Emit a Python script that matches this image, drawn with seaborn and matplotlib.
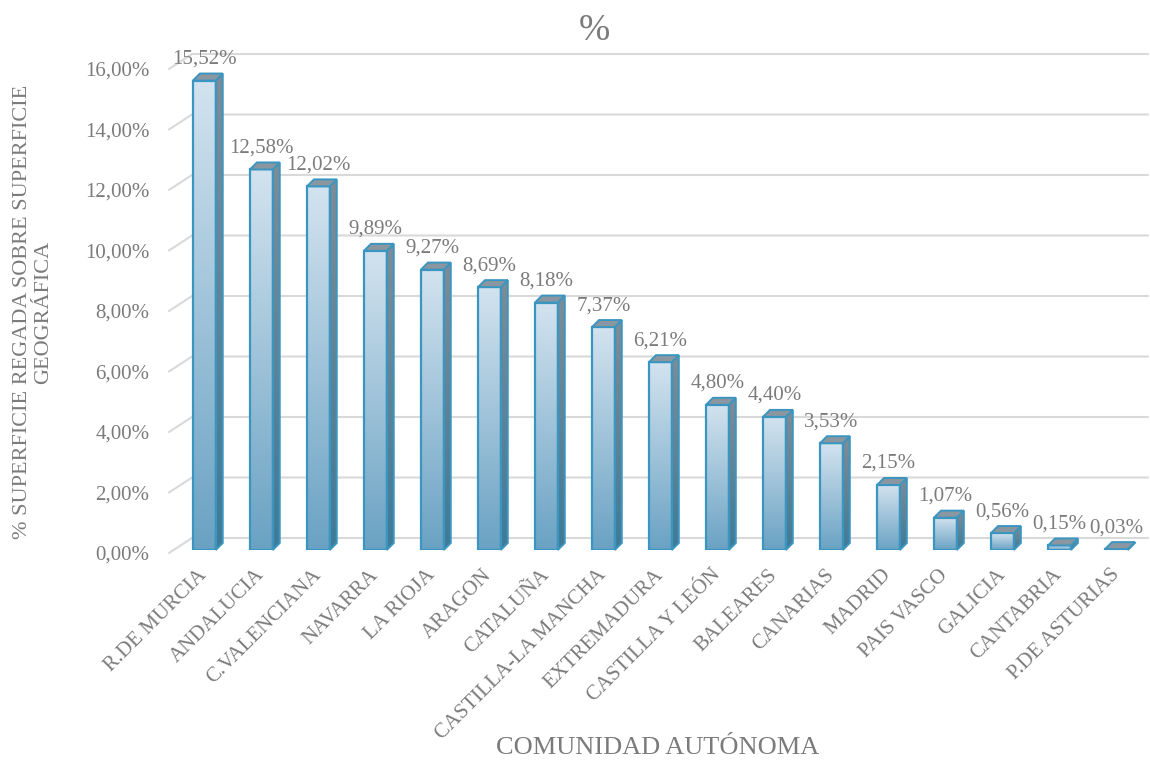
import numpy as np
import pandas as pd
import seaborn as sns
import matplotlib.pyplot as plt
import matplotlib as mpl
from matplotlib.patches import Polygon
from matplotlib.lines import Line2D
from matplotlib.transforms import ScaledTranslation

sns.set_theme(style="white")
plt.rcParams['font.family'] = ['Liberation Serif', 'DejaVu Serif']

regions = [
    'R.DE MURCIA', 'ANDALUCIA', 'C.VALENCIANA', 'NAVARRA', 'LA RIOJA',
    'ARAGON', 'CATALUÑA', 'CASTILLA-LA MANCHA', 'EXTREMADURA',
    'CASTILLA Y LEÓN', 'BALEARES', 'CANARIAS', 'MADRID', 'PAIS VASCO',
    'GALICIA', 'CANTABRIA', 'P.DE ASTURIAS'
]
pct = [15.52, 12.58, 12.02, 9.89, 9.27, 8.69, 8.18, 7.37, 6.21,
       4.80, 4.40, 3.53, 2.15, 1.07, 0.56, 0.15, 0.03]
yticks = [0, 2, 4, 6, 8, 10, 12, 14, 16]

df = pd.DataFrame({'region': regions, 'pct': pct})

TXT = '#7b7b7b'
GRID = '#d9d9d9'
EDGE = '#3a96c0'

# Excel style 3D look: front face gradient, grey side and top faces
front_cmap = mpl.colors.LinearSegmentedColormap.from_list('front', ['#6aa2c3', '#d3e3ef'])
side_cmap = mpl.colors.LinearSegmentedColormap.from_list('side', ['#3f7a97', '#808c96'])
TOP = '#8a97a1'

fig = plt.figure(figsize=(11.5, 7.62), dpi=100)
ax = fig.add_axes([169 / 1150, 212 / 762, 956 / 1150, 484 / 762])

sns.barplot(data=df, x='region', y='pct', color='#9fc3db', width=0.4,
            edgecolor=EDGE, linewidth=1.6, ax=ax, zorder=3)

xmin, xmax = -0.62, 16.15
ymin, ymax = 0, 16
ax.set_xlim(xmin, xmax)
ax.set_ylim(ymin, ymax)

# pixel -> data unit conversion
ux = 956 / (xmax - xmin)
uy = 484 / (ymax - ymin)

# back wall gridlines with floor diagonals
wdx, wdy = 23 / ux, 15 / uy
f0 = -3 / uy
for t in yticks:
    ax.add_line(Line2D([xmin, xmin + wdx, xmax + wdx], [t + f0, t + f0 + wdy, t + f0 + wdy],
                       color=GRID, lw=1.5, clip_on=False, zorder=0))

bdx, bdy = 7 / ux, 7 / uy
grad = np.linspace(0, 1, 256).reshape(-1, 1)
for bar, v in zip(ax.patches, pct):
    x0 = bar.get_x()
    w = bar.get_width()
    h = bar.get_height()
    bar.set_facecolor('none')
    im = ax.imshow(grad, cmap=front_cmap, origin='lower', aspect='auto',
                   extent=[x0, x0 + w, 0, max(h, 1e-3)], zorder=2)
    im.set_clip_path(bar)
    # side face
    side = Polygon([(x0 + w, 0), (x0 + w + bdx, bdy), (x0 + w + bdx, h + bdy), (x0 + w, h)],
                   closed=True, facecolor='none', edgecolor=EDGE, lw=1.4,
                   clip_on=False, zorder=3)
    ax.add_patch(side)
    im2 = ax.imshow(grad, cmap=side_cmap, origin='lower', aspect='auto',
                    extent=[x0 + w, x0 + w + bdx, 0, h + bdy], zorder=2)
    im2.set_clip_path(side)
    # top face
    top = Polygon([(x0, h), (x0 + bdx, h + bdy), (x0 + w + bdx, h + bdy), (x0 + w, h)],
                  closed=True, facecolor=TOP, edgecolor=EDGE, lw=1.4,
                  clip_on=False, zorder=3)
    ax.add_patch(top)
    ax.text(x0 + w / 2, h + bdy + 5 / uy, f'{v:.2f}'.replace('.', ',') + '%',
            ha='center', va='bottom', fontsize=15, color=TXT, zorder=4)

ax.set_xlim(xmin, xmax)
ax.set_ylim(ymin, ymax)

ax.set_yticks(yticks)
ax.set_yticklabels([f'{t:.2f}'.replace('.', ',') + '%' for t in yticks],
                   fontsize=15, color=TXT)
ax.tick_params(axis='y', length=0, pad=14)
shift = ScaledTranslation(0, -3 / 100, fig.dpi_scale_trans)
for lab in ax.get_yticklabels():
    lab.set_transform(lab.get_transform() + shift)
ax.tick_params(axis='x', length=0, pad=16)
for lab in ax.get_xticklabels():
    lab.set_rotation(45)
    lab.set_ha('right')
    lab.set_va('center')
    lab.set_rotation_mode('anchor')
    lab.set_fontsize(15)
    lab.set_color(TXT)

ax.set_xlabel('')
ax.set_ylabel('')
for s in ax.spines.values():
    s.set_visible(False)
ax.grid(False)

fig.text(33 / 1150, 1 - 312 / 762, '% SUPERFICIE REGADA SOBRE SUPERFICIE\nGEOGRÁFICA',
         rotation=90, ha='center', va='center', fontsize=16, color=TXT,
         linespacing=1.1, multialignment='center')
fig.text(658 / 1150, 1 - 748 / 762, 'COMUNIDAD AUTÓNOMA', ha='center', va='center',
         fontsize=19, color=TXT)
fig.text(594 / 1150, 1 - 31 / 762, '%', ha='center', va='center', fontsize=27, color=TXT)

fig.savefig('out.png', dpi=100)
